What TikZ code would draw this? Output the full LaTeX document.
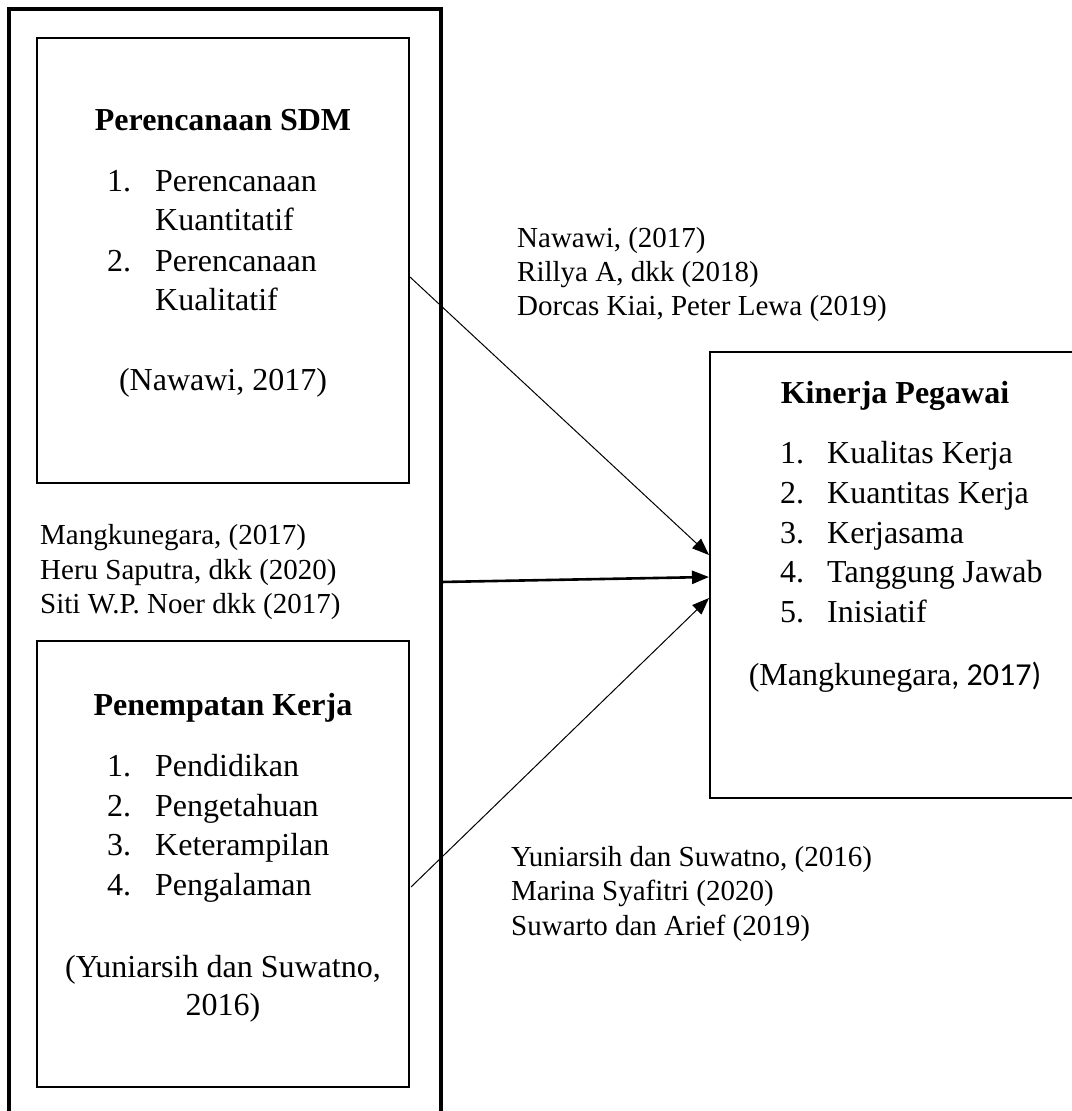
\documentclass[tikz,border=0pt]{standalone}
\usepackage{fontspec}
\setmainfont{Liberation Serif}
\newfontfamily\calibfont{Carlito}
\usetikzlibrary{arrows.meta}
\begin{document}
\begin{tikzpicture}[x=1pt,y=-1pt,
  outerline/.style={draw, line width=4pt},
  boxline/.style={draw, line width=2.6pt},
  boxtxt/.style={inner sep=0pt, anchor=base west, font=\fontsize{32}{38}\selectfont},
  boxtitle/.style={inner sep=0pt, anchor=base, font=\fontsize{32}{38}\selectfont\bfseries},
  boxcite/.style={inner sep=0pt, anchor=base, font=\fontsize{32}{38}\selectfont},
  reftxt/.style={inner sep=0pt, anchor=base west, font=\fontsize{29}{34}\selectfont},
  thinarr/.style={-{Triangle[length=17pt,width=13pt]}, line width=1pt},
  thickarr/.style={-{Triangle[length=17pt,width=13pt]}, line width=2.6pt},
]
\useasboundingbox (0,0) rectangle (1071,1111);
% outer frame (bottom cut off)
\draw[outerline] (9,1140) -- (9,9) -- (441,9) -- (441,1140);
% boxes
\draw[boxline] (37,38) rectangle (409,483);
\draw[boxline] (37,641) rectangle (409,1087);
\draw[boxline] (710,352) rectangle (1090,798);

% Perencanaan SDM
\node[boxtitle] (t1) at (223,130) {Perencanaan SDM};
\node[boxtxt] (p1n) at (107,191) {1.};
\node[boxtxt] (p1a) at (155,191) {Perencanaan};
\node[boxtxt] (p1b) at (155,230) {Kuantitatif};
\node[boxtxt] (p2n) at (107,271) {2.};
\node[boxtxt] (p2a) at (155,271) {Perencanaan};
\node[boxtxt] (p2b) at (155,310) {Kualitatif};
\node[boxcite] (c1) at (223,390) {(Nawawi, 2017)};

% Penempatan Kerja
\node[boxtitle] (t2) at (223,715) {Penempatan Kerja};
\node[boxtxt] (q1n) at (107,776) {1.};
\node[boxtxt] (q1) at (155,776) {Pendidikan};
\node[boxtxt] (q2n) at (107,816) {2.};
\node[boxtxt] (q2) at (155,816) {Pengetahuan};
\node[boxtxt] (q3n) at (107,855) {3.};
\node[boxtxt] (q3) at (155,855) {Keterampilan};
\node[boxtxt] (q4n) at (107,895) {4.};
\node[boxtxt] (q4) at (155,895) {Pengalaman};
\node[boxcite] (c2a) at (223,977) {(Yuniarsih dan Suwatno,};
\node[boxcite] (c2b) at (223,1015) {2016)};

% Kinerja Pegawai
\node[boxtitle] (t3) at (895,403) {Kinerja Pegawai};
\node[boxtxt] (k1n) at (780,463) {1.};
\node[boxtxt] (k1) at (827,463) {Kualitas Kerja};
\node[boxtxt] (k2n) at (780,503) {2.};
\node[boxtxt] (k2) at (827,503) {Kuantitas Kerja};
\node[boxtxt] (k3n) at (780,543) {3.};
\node[boxtxt] (k3) at (827,543) {Kerjasama};
\node[boxtxt] (k4n) at (780,582) {4.};
\node[boxtxt] (k4) at (827,582) {Tanggung Jawab};
\node[boxtxt] (k5n) at (780,622) {5.};
\node[boxtxt] (k5) at (827,622) {Inisiatif};
\node[boxcite] (c3) at (895,685) {(Mangkunegara{\calibfont, 2017)}};

% reference labels
\node[reftxt] (r1) at (517,247) {Nawawi, (2017)};
\node[reftxt] (r2) at (517,281) {Rillya A, dkk (2018)};
\node[reftxt] (r3) at (517,315) {Dorcas Kiai, Peter Lewa (2019)};
\node[reftxt] (m1) at (40,544) {Mangkunegara, (2017)};
\node[reftxt] (m2) at (40,579) {Heru Saputra, dkk (2020)};
\node[reftxt] (m3) at (40,613) {Siti W.P. Noer dkk (2017)};
\node[reftxt] (y1) at (511,866) {Yuniarsih dan Suwatno, (2016)};
\node[reftxt] (y2) at (511,900) {Marina Syafitri (2020)};
\node[reftxt] (y3) at (511,935) {Suwarto dan Arief (2019)};

% arrows
\coordinate (s1) at (410,277);
\coordinate (e1) at (709,555);
\coordinate (s2) at (441,582);
\coordinate (e2) at (709,577);
\coordinate (s3) at (411,887);
\coordinate (e3) at (709,598);
\draw[thinarr] (s1) -- (e1);
\draw[thickarr] (s2) -- (e2);
\draw[thinarr] (s3) -- (e3);
\end{tikzpicture}
\end{document}
